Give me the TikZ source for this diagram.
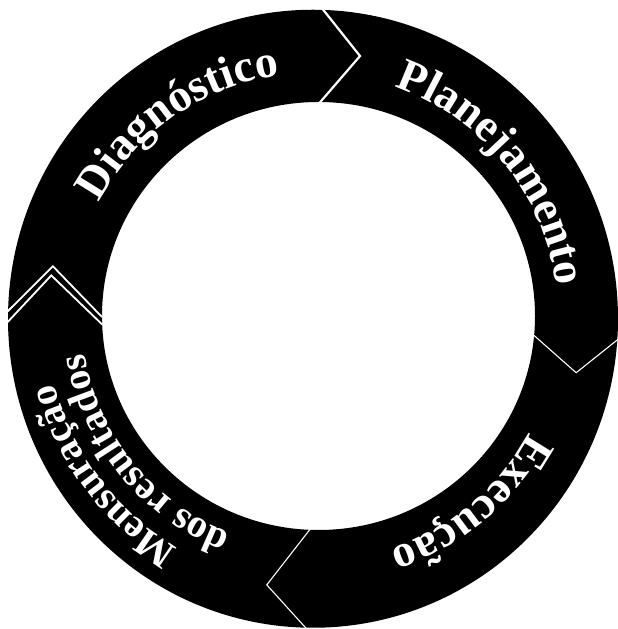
\documentclass[tikz,border=0pt]{standalone}
\usepackage{fontspec}
\setmainfont{Liberation Serif}
\usetikzlibrary{decorations.text}
\newcommand\labfont{\fontsize{46}{46}\selectfont\bfseries}
\newcommand\twofont{\fontsize{40}{40}\selectfont\bfseries}
\begin{document}
\begin{tikzpicture}[x=1pt,y=1pt,
  chev/.style={draw=white, line width=2.2pt, line join=miter},
  thinchev/.style={draw=white, line width=1.1pt, line join=miter},
  ringlabel/.style={decorate, decoration={text along path, text align=center, text color=white, text={#1}}}]
\useasboundingbox (0,0) rectangle (618,629);
\fill[black, even odd rule] (313,310.25) ellipse [x radius=305, y radius=309]
  (318.5,313) ellipse [x radius=216.5, y radius=214];
\coordinate (C) at (314,312);
% chevrons
\draw[chev] ([shift={(89:312)}]C) -- ([shift={(80:265)}]C) -- ([shift={(89:212)}]C);
\draw[thinchev] ([shift={(-3:312)}]C) -- ([shift={(-12:268)}]C) -- ([shift={(-3:212)}]C);
\draw[thinchev] ([shift={(-91:314)}]C) -- ([shift={(-100:272)}]C) -- ([shift={(-91:212)}]C);
\draw[chev, line width=1.8pt] ([shift={(180:312)}]C) -- ([shift={(169:266)}]C) -- ([shift={(180:212)}]C);
\draw[chev, line width=1.8pt] ([shift={(182:312)}]C) -- ([shift={(171:266)}]C) -- ([shift={(182:212)}]C);
% labels
{\labfont
\path[ringlabel={Diagnóstico}, font=\labfont] ([shift={(165:244)}]C) arc[start angle=165, end angle=85, radius=244];
\path[ringlabel={Planejamento}, font=\labfont] ([shift={(79:244)}]C) arc[start angle=79, end angle=-1, radius=244];
\path[ringlabel={Execução}, font=\labfont] ([shift={(-10:244)}]C) arc[start angle=-10, end angle=-90, radius=244];
}
{\twofont
\path[ringlabel={Mensuração}, font=\twofont] ([shift={(-103:268)}]C) arc[start angle=-103, end angle=-183, radius=268];
\path[ringlabel={dos resultados}, font=\twofont] ([shift={(-101:232)}]C) arc[start angle=-101, end angle=-181, radius=232];
}
\end{tikzpicture}
\end{document}
